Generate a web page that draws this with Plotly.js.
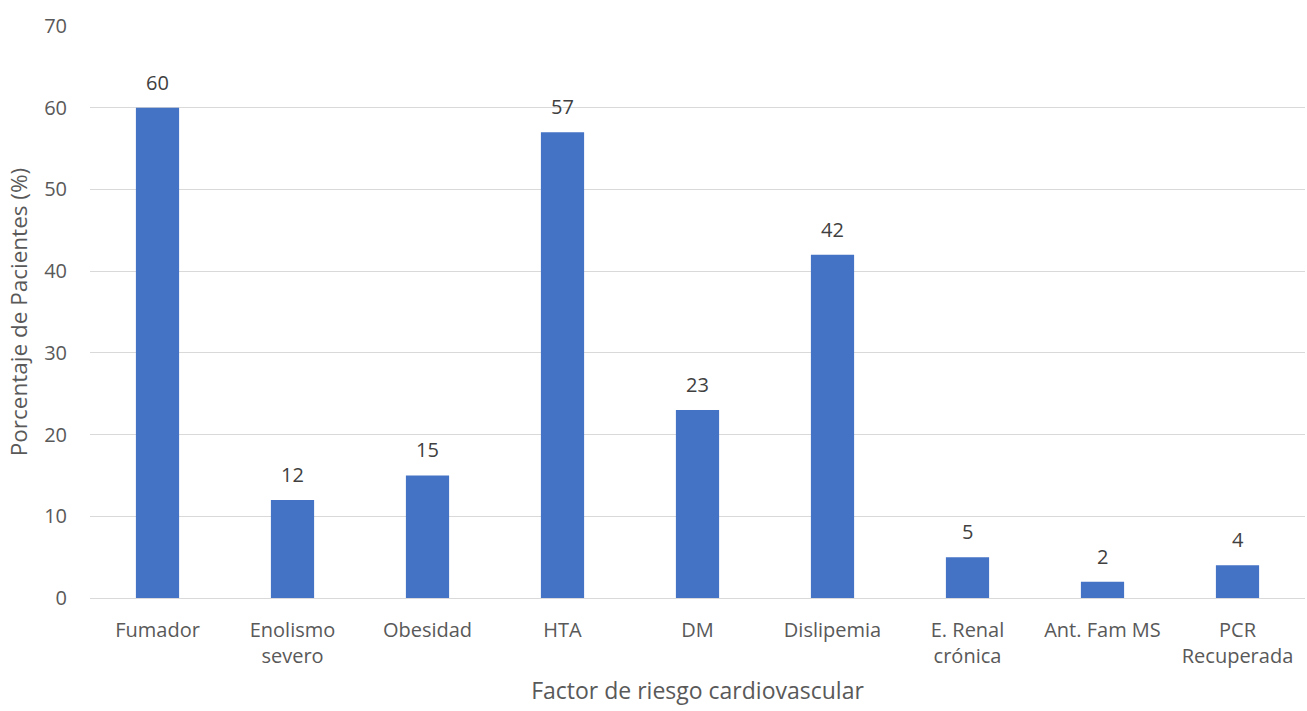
<!DOCTYPE html>
<html><head><meta charset="utf-8">
<script src="https://cdn.plot.ly/plotly-3.0.1.min.js"></script>
<style>html,body{margin:0;padding:0;background:#fff}#chart{width:1307px;height:711px}</style>
</head><body><div id="chart"></div>
<script>
const categories = ["Fumador","Enolismo<br>severo","Obesidad","HTA","DM","Dislipemia","E. Renal<br>crónica","Ant. Fam MS","PCR<br>Recuperada"];
const values = [60,12,15,57,23,42,5,2,4];
const yTicks = [0,10,20,30,40,50,60,70];

const font = "'Open Sans', 'Segoe UI', sans-serif";
const trace = {type:'bar', x:categories, y:values, marker:{color:'#4472C4'}, hoverinfo:'none'};
const annotations = categories.map((c,i)=>({x:c, y:values[i], text:String(values[i]), showarrow:false,
  yanchor:'bottom', yshift:10, font:{family:font, size:20, color:'#404040'}}));
const layout = {
  width:1307, height:711, margin:{l:90,r:2,t:26,b:113},
  paper_bgcolor:'#fff', plot_bgcolor:'#fff', showlegend:false, bargap:0.68,
  font:{family:font, color:'#595959', size:20},
  xaxis:{type:'category', ticks:'outside', ticklen:14, tickcolor:'rgba(0,0,0,0)', showgrid:false, zeroline:false,
    showline:false, tickfont:{size:20,color:'#595959'},
    title:{text:'Factor de riesgo cardiovascular', standoff:14, font:{size:23,color:'#595959'}}},
  yaxis:{range:[0,70], tickvals:yTicks, ticks:'outside', ticklen:18, tickcolor:'rgba(0,0,0,0)',
    gridcolor:'#D9D9D9', gridwidth:1, zeroline:true, zerolinecolor:'#D9D9D9', zerolinewidth:1,
    tickfont:{size:20,color:'#595959'},
    title:{text:'Porcentaje de Pacientes (%)', standoff:10, font:{size:22.5,color:'#595959'}}},
  annotations:annotations
};
Plotly.newPlot('chart',[trace],layout,{displayModeBar:false, staticPlot:true});
</script></body></html>
